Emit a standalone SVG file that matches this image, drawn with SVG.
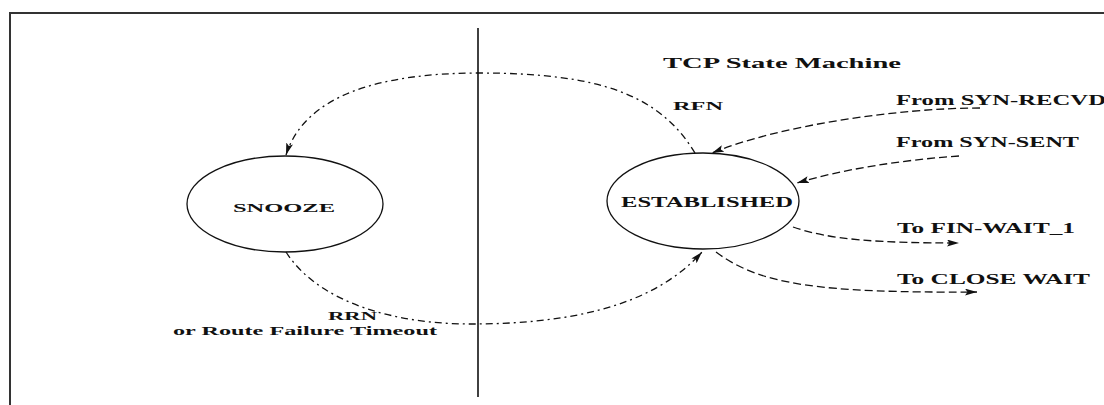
<svg xmlns="http://www.w3.org/2000/svg" width="1104" height="405" viewBox="0 0 1104 405">
<defs>
<marker id="ah" viewBox="0 0 12 7" refX="12" refY="3.5" markerWidth="12" markerHeight="7" markerUnits="userSpaceOnUse" orient="auto">
<path d="M0,0 L12,3.5 L0,7 L2.5,3.5 Z" fill="#111"/>
</marker>
<style>
.t{font-family:"Liberation Serif","Times New Roman",serif;font-weight:bold;fill:#111;}
.st{fill:none;stroke:#111;stroke-width:1.3;}
.c{fill:none;stroke:#111;stroke-width:1.3;stroke-dasharray:8 4;marker-end:url(#ah);}
.cd{fill:none;stroke:#111;stroke-width:1.3;stroke-dasharray:7 4 2 4;marker-end:url(#ah);}
</style>
</defs>
<rect width="1104" height="405" fill="#fff"/>
<g id="frame">
<line x1="10" y1="13" x2="1104" y2="13" stroke="#333" stroke-width="2"/>
<line x1="10" y1="12" x2="10" y2="405" stroke="#333" stroke-width="2"/>
<line x1="478" y1="28" x2="478" y2="397" stroke="#111" stroke-width="1.6"/>
</g>
<text class="t" x="663" y="68" font-size="14" textLength="238" lengthAdjust="spacingAndGlyphs">TCP State Machine</text>
<g id="snooze">
<ellipse class="st" cx="285" cy="204" rx="98" ry="48"/>
<text class="t" x="233" y="212" font-size="13" textLength="102" lengthAdjust="spacingAndGlyphs">SNOOZE</text>
</g>
<g id="established">
<ellipse class="st" cx="703" cy="201" rx="96" ry="48"/>
<text class="t" x="621" y="207" font-size="14" textLength="172" lengthAdjust="spacingAndGlyphs">ESTABLISHED</text>
</g>
<g id="connectors">
<path class="cd" d="M695,153 C660,95 600,73 480,73 C380,73 305,95 286,155"/>
<path class="cd" d="M286,252 C320,305 400,324 470,324 C560,324 650,310 702,252"/>
<path class="c" d="M980,108 C900,108 780,125 712,153"/>
<path class="c" d="M959,156 C900,160 840,170 797,183"/>
<path class="c" d="M793,227 C830,240 880,243 959,243"/>
<path class="c" d="M716,252 C760,285 820,293 977,292"/>
</g>
<g id="labels">
<text class="t" x="673" y="110" font-size="12" textLength="50" lengthAdjust="spacingAndGlyphs">RFN</text>
<text class="t" x="896" y="105" font-size="14" textLength="210" lengthAdjust="spacingAndGlyphs">From SYN-RECVD</text>
<text class="t" x="896" y="147" font-size="14" textLength="183" lengthAdjust="spacingAndGlyphs">From SYN-SENT</text>
<text class="t" x="897" y="233" font-size="14" textLength="178" lengthAdjust="spacingAndGlyphs">To FIN-WAIT_1</text>
<text class="t" x="897" y="284" font-size="14" textLength="193" lengthAdjust="spacingAndGlyphs">To CLOSE WAIT</text>
<text class="t" x="328" y="320" font-size="12" textLength="49" lengthAdjust="spacingAndGlyphs">RRN</text>
<text class="t" x="173" y="335" font-size="13" textLength="264" lengthAdjust="spacingAndGlyphs">or Route Failure Timeout</text>
</g>
</svg>
